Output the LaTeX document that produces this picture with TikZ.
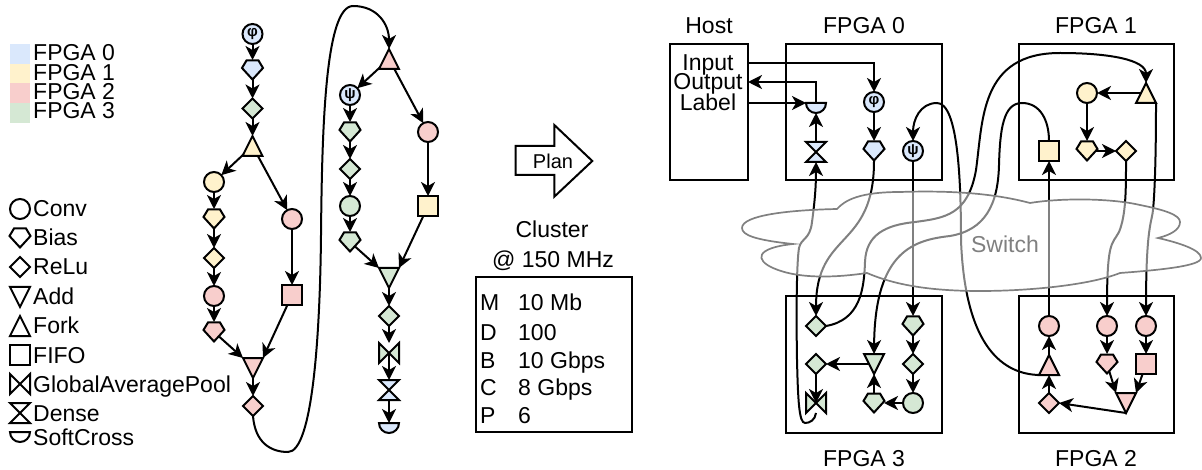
\documentclass[tikz,border=0pt]{standalone}
\usepackage{fontspec}
\setmainfont{Liberation Sans}
\usepackage{xcolor}
\usepackage{tikz}
\usetikzlibrary{arrows.meta,backgrounds}
\definecolor{f0}{HTML}{DAE8FC}
\definecolor{f1}{HTML}{FFF2CC}
\definecolor{f2}{HTML}{F8CECC}
\definecolor{f3}{HTML}{D5E8D4}
\newcommand{\opm}[2]{\pgfpathmoveto{\pgfpoint{#1pt}{#2pt}}}
\newcommand{\opl}[2]{\pgfpathlineto{\pgfpoint{#1pt}{#2pt}}}
\newcommand{\opshape}[2]{\pgfdeclareshape{#1}{
  \inheritsavedanchors[from=rectangle]
  \inheritanchorborder[from=rectangle]
  \inheritanchor[from=rectangle]{center}
  \inheritanchor[from=rectangle]{north}
  \inheritanchor[from=rectangle]{south}
  \inheritanchor[from=rectangle]{east}
  \inheritanchor[from=rectangle]{west}
  \inheritanchor[from=rectangle]{north east}
  \inheritanchor[from=rectangle]{north west}
  \inheritanchor[from=rectangle]{south east}
  \inheritanchor[from=rectangle]{south west}
  \backgroundpath{#2}}}
\opshape{biasshape}{\opm{-6}{9.5}\opl{6}{9.5}\opl{10.5}{2}\opl{0}{-9.5}\opl{-10.5}{2}\pgfpathclose}
\opshape{relushape}{\opm{0}{10}\opl{10}{0}\opl{0}{-10}\opl{-10}{0}\pgfpathclose}
\opshape{addshape}{\opm{-10}{10}\opl{10}{10}\opl{0}{-10}\pgfpathclose}
\opshape{forkshape}{\opm{0}{10}\opl{10}{-10}\opl{-10}{-10}\pgfpathclose}
\opshape{gapshape}{\opm{-10}{10}\opl{-10}{-10}\opl{10}{10}\opl{10}{-10}\pgfpathclose}
\opshape{denseshape}{\opm{-10}{10}\opl{10}{10}\opl{-10}{-10}\opl{10}{-10}\pgfpathclose}
\opshape{softshape}{\opm{-10}{5}\opl{10}{5}\pgfpatharc{0}{-180}{10pt}\pgfpathclose}
\tikzset{
  lab/.style={font=\fontsize{23pt}{23pt}\selectfont,inner sep=0pt,text height=16pt,text depth=0pt},
  op/.style={draw,line width=2pt,minimum size=20pt,inner sep=0pt,outer sep=0pt},
  conv/.style={op,circle},
  bias/.style={op,shape=biasshape},
  relu/.style={op,shape=relushape},
  addop/.style={op,shape=addshape},
  forkop/.style={op,shape=forkshape},
  fifo/.style={op,rectangle},
  gap/.style={op,shape=gapshape},
  dense/.style={op,shape=denseshape},
  soft/.style={op,shape=softshape,minimum height=10pt},
  greek/.style={font=\fontsize{15pt}{15pt}\selectfont\bfseries},
  box/.style={draw,line width=2pt,minimum width=155.5pt,minimum height=136.5pt,inner sep=0pt,outer sep=0pt},
  arr/.style={-{Stealth[length=14pt,width=14pt,inset=4pt]},line width=2pt},
  swatch/.style={minimum width=20pt,minimum height=19.7pt,inner sep=0pt,outer sep=0pt},
}
\begin{document}
\begin{tikzpicture}[x=1pt,y=-1pt]
\useasboundingbox (0,0) rectangle (1202,470);
% legends
\foreach \i/\c in {0/f0,1/f1,2/f2,3/f3} \node[swatch,fill=\c] (sw\i) at (20,53.8+\i*19.7) {};
\foreach \i/\y in {0/53,1/73,2/92,3/111} \node[lab,anchor=west] (swl\i) at (33,\y) {FPGA \i};
\foreach \s/\t/\y in {conv/Conv/209,bias/Bias/238,relu/ReLu/267,addop/Add/297,forkop/Fork/326,fifo/FIFO/355,gap/GlobalAveragePool/384,dense/Dense/413}
  {\node[\s,fill=white] (key\t) at (20,\y) {};
   \node[lab,anchor=west] (txt\t) at (33,\y) {\t};}
\node[soft,fill=white] (keySoftCross) at (20,437) {};
\node[lab,anchor=west] (txtSoftCross) at (33,437) {SoftCross};
% first half of the network
\node[conv,fill=f0,greek] (phia) at (252.5,34) {φ};
\node[bias,fill=f0] (biasa) at (252.5,70) {};
\node[relu,fill=f3] (relua) at (252.5,108.5) {};
\node[forkop,fill=f1] (forka) at (252.5,146) {};
\node[conv,fill=f1] (convb) at (214,182) {};
\node[bias,fill=f1] (biasb) at (214,219) {};
\node[relu,fill=f1] (relub) at (214,258) {};
\node[conv,fill=f2] (convc) at (214,296) {};
\node[bias,fill=f2] (biasc) at (214,332) {};
\node[addop,fill=f2] (addb) at (253,368) {};
\node[relu,fill=f2] (reluc) at (253,406) {};
\node[conv,fill=f2] (convd) at (292,219) {};
\node[fifo,fill=f2] (fifod) at (292,295) {};
% second half
\node[forkop,fill=f2] (forke) at (389,59) {};
\node[conv,fill=f0,greek] (psie) at (350,95) {ψ};
\node[bias,fill=f3] (biase) at (350,132) {};
\node[relu,fill=f3] (relue) at (350,169) {};
\node[conv,fill=f3] (conve) at (350,206) {};
\node[bias,fill=f3] (biasf) at (350,242) {};
\node[addop,fill=f3] (addf) at (389,278) {};
\node[relu,fill=f3] (reluf) at (389,316) {};
\node[gap,fill=f3] (gapf) at (389,353) {};
\node[dense,fill=f0] (densef) at (389,390) {};
\node[soft,fill=f0] (softf) at (389,428) {};
\node[conv,fill=f2] (convg) at (428,132) {};
\node[fifo,fill=f1] (fifog) at (428,206) {};
% plan arrow and cluster table
\draw[line width=2pt] (515.7,146) -- (554.3,146) -- (554.3,125) -- (592.3,161) -- (554.3,196.7) -- (554.3,175) -- (515.7,175) -- cycle;
\node[lab,font=\fontsize{20pt}{20pt}\selectfont,text height=14.5pt] (plan) at (553,161) {Plan};
\node[lab] (cluster) at (552,230) {Cluster};
\node[lab] (clock) at (553,260) {@ 150 MHz};
\node[box,minimum width=155.7pt,minimum height=155pt] (table) at (553.8,354.8) {};
\foreach \k/\v/\y in {M/10 Mb/303,D/100/332,B/10 Gbps/360,C/8 Gbps/387,P/6/415}
  {\node[lab,anchor=west] (key\k) at (480,\y) {\k};
   \node[lab,anchor=west] (val\k) at (518,\y) {\v};}
% host and boards
\node[box,minimum width=78pt] (host) at (709,112) {};
\node[box] (fpga0) at (864.2,112) {};
\node[box] (fpga1) at (1096.5,112) {};
\node[box] (fpga3) at (864.2,364.5) {};
\node[box] (fpga2) at (1096.5,364.5) {};
\node[lab] (hostl) at (709,26) {Host};
\node[lab] (fpga0l) at (864,26) {FPGA 0};
\node[lab] (fpga1l) at (1096,26) {FPGA 1};
\node[lab] (fpga3l) at (864,458) {FPGA 3};
\node[lab] (fpga2l) at (1096,458) {FPGA 2};
\node[lab] (input) at (708,63) {Input};
\node[lab] (output) at (708,82) {Output};
\node[lab] (label) at (708,103) {Label};
% FPGA 0
\node[soft,fill=f0] (soft0) at (816,108) {};
\node[dense,fill=f0] (dense0) at (816,152) {};
\node[conv,fill=f0,greek] (phi0) at (874,102) {φ};
\node[bias,fill=f0] (bias0) at (874,151) {};
\node[conv,fill=f0,greek] (psi0) at (913,151) {ψ};
% FPGA 1
\node[forkop,fill=f1] (fork1) at (1146,93) {};
\node[conv,fill=f1] (conv1) at (1087,93) {};
\node[bias,fill=f1] (bias1) at (1087,151) {};
\node[relu,fill=f1] (relu1) at (1126,151) {};
\node[fifo,fill=f1] (fifo1) at (1049,151) {};
% FPGA 2
\node[conv,fill=f2] (conv2a) at (1049,326) {};
\node[forkop,fill=f2] (fork2) at (1049,365) {};
\node[relu,fill=f2] (relu2) at (1049,403) {};
\node[conv,fill=f2] (conv2b) at (1107,326) {};
\node[bias,fill=f2] (bias2) at (1107,364) {};
\node[conv,fill=f2] (conv2c) at (1146,326) {};
\node[fifo,fill=f2] (fifo2) at (1146,364) {};
\node[addop,fill=f2] (add2) at (1126,403) {};
% FPGA 3
\node[relu,fill=f3] (relu3a) at (816,326) {};
\node[relu,fill=f3] (relu3b) at (816,364) {};
\node[gap,fill=f3] (gap3) at (816,403) {};
\node[addop,fill=f3] (add3) at (874,364) {};
\node[bias,fill=f3] (bias3a) at (874,403) {};
\node[conv,fill=f3] (conv3) at (913,403) {};
\node[relu,fill=f3] (relu3c) at (913,364) {};
\node[bias,fill=f3] (bias3b) at (913,326) {};
\node[lab,text=black!50] (switch) at (1005,245) {Switch};
\begin{scope}[on background layer]
% connectors start at node centres, the fills hide the first bit
\foreach \a/\b in {phia/biasa,biasa/relua,relua/forka,forka/convb,forka/convd,convb/biasb,biasb/relub,relub/convc,convc/biasc,convd/fifod,addb/reluc,
  forke/psie,forke/convg,psie/biase,biase/relue,relue/conve,conve/biasf,convg/fifog,addf/reluf,reluf/gapf,gapf/densef,densef/softf,
  phi0/bias0,dense0/soft0,fork1/conv1,conv1/bias1,bias1/relu1,conv2a/fifo1,psi0/bias3b,
  bias3b/relu3c,relu3c/conv3,conv3/bias3a,bias3a/add3,add3/relu3b,conv2b/bias2,conv2c/fifo2,relu2/fork2,fork2/conv2a}
  \draw[arr] (\a.center) -- (\b);
\draw[arr] (biasc.center) -- (addb.north west);
\draw[arr] (fifod.center) -- (addb.north east);
\draw[arr] (biasf.center) -- (addf.north west);
\draw[arr] (fifog.center) -- (addf.north east);
\draw[arr] (bias2.center) -- (add2.north west);
\draw[arr] (fifo2.center) -- (add2.north east);
\draw[arr] (add2.south) -- (relu2.east);
\draw[arr] (relu3b.center) -- (gap3.center);
\draw[arr] (reluc.south) .. controls (255,442) and (270,452) .. (288,452) .. controls (312,452) and (320,340) .. (321,235) .. controls (322,130) and (325,6) .. (353,6) .. controls (378,6) and (389,25) .. (forke.north);
\draw[arr] (input -| host.east) -| (phi0);
\draw[arr] (soft0.north) |- (output -| host.east);
\draw[arr] (label -| host.east) -- (soft0.north west);
\draw[arr] (bias0.south) .. controls (874,250) and (816,230) .. (relu3a.north);
\draw[arr] (gap3.south) .. controls (815,420) and (810,423) .. (805,423) .. controls (799,423) and (798,400) .. (797,360) .. controls (796,300) and (797,260) .. (799,248) .. controls (801,238) and (810,240) .. (812,222) .. controls (815,200) and (816,185) .. (dense0.south);
\draw[arr] (relu3a.east) .. controls (860,320) and (864,290) .. (865,262) .. controls (866,235) and (885,225) .. (915,222) .. controls (945,218) and (968,215) .. (976,170) .. controls (983,120) and (980,53) .. (1060,53) .. controls (1110,53) and (1146,60) .. (fork1.north);
\draw[arr] (fifo1.north) .. controls (1049,120) and (1040,103) .. (1022,103) .. controls (1003,103) and (1000,130) .. (999,165) .. controls (998,205) and (985,230) .. (950,236) .. controls (915,240) and (875,250) .. (add3.north);
\draw[arr] (fork2.south west) .. controls (1005,374) and (965,350) .. (961,240) .. controls (961,180) and (958,103) .. (937,103) .. controls (920,103) and (913,120) .. (psi0.north);
\draw[arr] (relu1.south) .. controls (1126,190) and (1126,215) .. (1119,232) .. controls (1112,245) and (1107,240) .. (conv2b.north);
\draw[arr] (fork1.south east) .. controls (1156,150) and (1155,190) .. (1153,210) .. controls (1152,222) and (1146,225) .. (conv2c.north);
% the cloud lies over the connectors and greys them
\path[draw=black!50,fill=white,fill opacity=.5,line width=1.7pt] (793,244) .. controls (755,240) and (742,235) .. (742,228) .. controls (742,215) and (790,210) .. (837,209) .. controls (845,200) and (860,192) .. (900,192) .. controls (960,190) and (1000,195) .. (1030,203) .. controls (1060,198) and (1110,198) .. (1140,205) .. controls (1165,210) and (1180,215) .. (1180,222) .. controls (1180,230) and (1170,235) .. (1158,238) .. controls (1180,243) and (1201,250) .. (1201,258) .. controls (1201,266) and (1160,270) .. (1120,273) .. controls (1090,285) and (1030,291) .. (980,291) .. controls (930,291) and (895,285) .. (867,273) .. controls (840,277) and (800,280) .. (773,268) .. controls (755,260) and (755,248) .. (793,244) -- cycle;
\end{scope}
\end{tikzpicture}
\end{document}
